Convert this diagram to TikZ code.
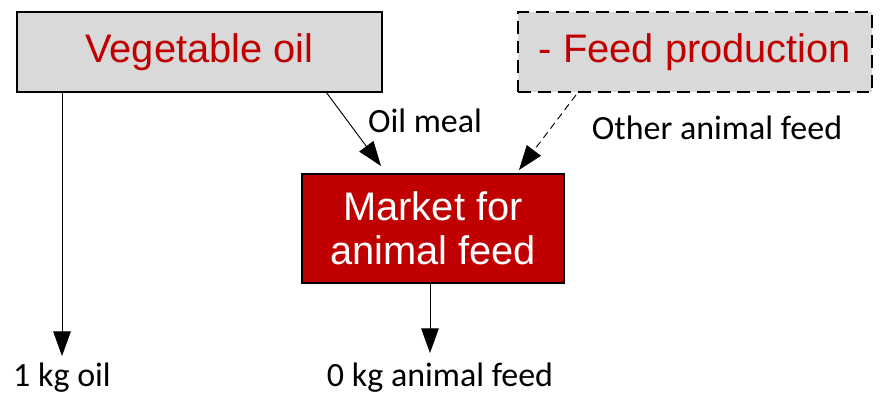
\documentclass[tikz,border=0pt]{standalone}
\usepackage{fontspec}
\setmainfont{Carlito}
\newfontfamily\boxfont{Liberation Sans}
\usetikzlibrary{arrows.meta}
\definecolor{darkred}{HTML}{C00000}
\definecolor{boxgray}{HTML}{D9D9D9}
\tikzset{
	procbox/.style={draw, line width=1.2pt, fill=boxgray, text=darkred, font=\boxfont\fontsize{34}{38}\selectfont, align=center, inner sep=0pt},
	flow/.style={line width=0.8pt, -{Triangle[length=21pt, width=15pt]}},
	lbl/.style={font=\fontsize{29}{33}\selectfont, inner sep=0pt}
}
\begin{document}
\begin{tikzpicture}[x=0.03cm, y=-0.03cm]
	\useasboundingbox (0,0) rectangle (882,393);
	% boxes
	\node[procbox, minimum width=10.95cm, minimum height=2.4cm] (veg) at (199.5,52) {Vegetable oil};
	\node[procbox, dash pattern=on 11pt off 6pt, minimum width=10.62cm, minimum height=2.4cm] (feed) at (695,52) {- Feed production};
	\node[procbox, fill=darkred, text=white, minimum width=7.86cm, minimum height=3.27cm] (market) at (433,228.5) {Market for\\animal feed};
	% labels
	\node[lbl, anchor=base] (oil) at (62,386) {1 kg oil};
	\node[lbl, anchor=base] (out) at (440,386) {0 kg animal feed};
	\node[lbl, anchor=base] (meal) at (425,132) {Oil meal};
	\node[lbl, anchor=base] (other) at (717,139) {Other animal feed};
	% flows
	\coordinate (oilend) at (62,356);
	\coordinate (outend) at (430,353);
	\coordinate (mealstart) at (326,92);
	\coordinate (mealend) at (381,166);
	\coordinate (otherstart) at (576,95);
	\coordinate (otherend) at (519,170);
	\draw[flow] (veg.south -| oilend) -- (oilend);
	\draw[flow] (mealstart) -- (mealend);
	\draw[flow, dash pattern=on 6pt off 4pt] (otherstart) -- (otherend);
	\draw[flow] (market.south -| outend) -- (outend);
\end{tikzpicture}
\end{document}
